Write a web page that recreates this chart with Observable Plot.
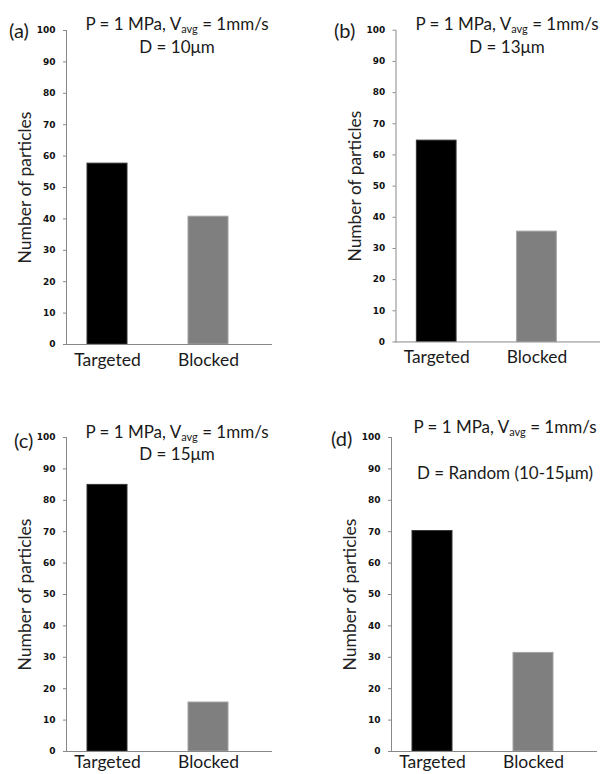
<!DOCTYPE html>
<html><head><meta charset="utf-8">
<script src="https://cdn.jsdelivr.net/npm/d3@7"></script>
<script src="https://cdn.jsdelivr.net/npm/@observablehq/plot@0.6"></script>
<style>
html,body{margin:0;padding:0;background:#fff;overflow:hidden;width:600px;height:774px;}
#root{position:relative;width:600px;height:774px;}
.panel{position:absolute;}
.lbl{position:absolute;font-family:Lato,"Open Sans",sans-serif;color:#1a1a1a;white-space:nowrap;}
.ttl{font-size:17px;transform:translateX(-50%);line-height:1;}
.ttl sub{font-size:11px;vertical-align:baseline;position:relative;top:3px;}
.pl{font-size:20px;line-height:1;}
</style></head>
<body><div id="root"></div>
<script>
const panelLabels = ["(a)", "(b)", "(c)", "(d)"];
const categories = ["Targeted", "Blocked"];
const targeted = [57.6, 64.6, 84.9, 70.2];
const blocked = [40.7, 35.4, 15.6, 31.4];
const diameterLabels = ["D = 10μm", "D = 13μm", "D = 15μm", "D = Random (10-15μm)"];
const yTicks = [0, 10, 20, 30, 40, 50, 60, 70, 80, 90, 100];
const yLabel = "Number of particles";

// layout of each panel: svg left/top, title line positions
const layout = [
  {left: 0,   top: 0,   t1: 111, line1: 29,  line2: 52,  lx: 9,   ly: 36,  pad: 9},
  {left: 330, top: 0,   t1: 111, line1: 29,  line2: 52,  lx: 334, ly: 36,  pad: 9},
  {left: 0,   top: 407, t1: 111, line1: 437, line2: 459, lx: 14,  ly: 446, pad: 4},
  {left: 325, top: 407, t1: 114, line1: 432, line2: 478, lx: 331, ly: 444, pad: 4}
];

const root = document.getElementById("root");

layout.forEach((L, i) => {
  const data = [
    {cat: categories[0], value: targeted[i]},
    {cat: categories[1], value: blocked[i]}
  ];
  const chart = Plot.plot({
    width: 272, height: 374,
    marginLeft: 66, marginTop: 30, marginBottom: 30, marginRight: 0,
    style: {background: "transparent", overflow: "visible"},
    x: {domain: categories, paddingInner: 0.6, paddingOuter: 0.315, align: 0.33, label: null},
    y: {domain: [0, 100], label: null},
    marks: [
      Plot.barY(data.filter(d => d.cat === categories[0]), {x: "cat", y: "value", fill: "#000", stroke: "#333", strokeWidth: 1}),
      Plot.barY(data.filter(d => d.cat === categories[1]), {x: "cat", y: "value", fill: "#7f7f7f", stroke: "#a3a3a3", strokeWidth: 1}),
      Plot.axisY({ticks: yTicks, tickSize: 3, tickPadding: 8, stroke: "#888", fontSize: 9, fontWeight: "bold",
        fontFamily: "DejaVu Sans", fill: "#111", label: null}),
      Plot.axisY({ticks: [], label: yLabel, labelAnchor: "center", labelArrow: "none", labelOffset: 48,
        fontSize: 17.5, fontFamily: "Lato", fill: "#222"}),
      Plot.axisX({tickSize: 0, tickPadding: L.pad, fontSize: 17.5, fontFamily: "Lato", fill: "#1a1a1a", label: null}),
      Plot.frame({anchor: "left", stroke: "#888"}),
      Plot.ruleY([0], {stroke: "#888"})
    ]
  });
  const wrap = document.createElement("div");
  wrap.className = "panel";
  wrap.style.left = L.left + "px";
  wrap.style.top = L.top + "px";
  wrap.appendChild(chart);
  root.appendChild(wrap);

  const axisX = L.left + 66;
  const t1 = document.createElement("div");
  t1.className = "lbl ttl";
  t1.innerHTML = "P = 1 MPa, V<sub>avg</sub> = 1mm/s";
  t1.style.left = (axisX + L.t1) + "px";
  t1.style.top = (L.line1 - 14) + "px";
  root.appendChild(t1);
  const t2 = document.createElement("div");
  t2.className = "lbl ttl";
  t2.textContent = diameterLabels[i];
  t2.style.left = (axisX + L.t1) + "px";
  t2.style.top = (L.line2 - 14) + "px";
  root.appendChild(t2);
  const pl = document.createElement("div");
  pl.className = "lbl pl";
  pl.textContent = panelLabels[i];
  pl.style.left = L.lx + "px";
  pl.style.top = (L.ly - 16) + "px";
  root.appendChild(pl);
});
</script></body></html>
